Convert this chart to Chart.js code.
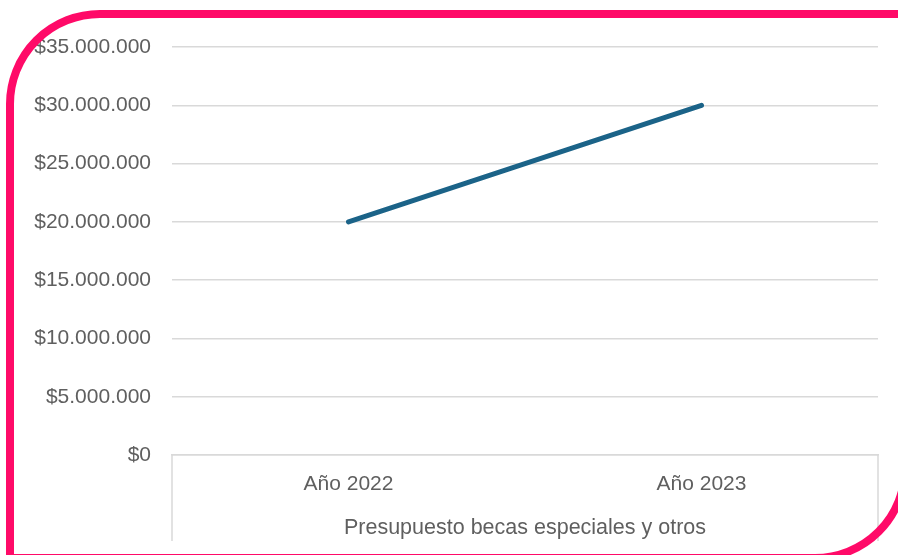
<!DOCTYPE html>
<html>
<head>
<meta charset="utf-8">
<script src="https://cdn.jsdelivr.net/npm/chart.js@4/dist/chart.umd.min.js"></script>
<style>
html,body{margin:0;padding:0;background:#fff;}
#wrap{width:898px;height:555px;position:relative;}
</style>
</head>
<body>
<div id="wrap"><canvas id="c" width="898" height="555"></canvas></div>
<script>
const categories = ["Año 2022", "Año 2023"];
const groupLabel = "Presupuesto becas especiales y otros";
const values = [20000000, 30000000];
const yMin = 0, yMax = 35000000, yStep = 5000000;

const FONT = "'Liberation Sans', Arial, sans-serif";
const TXT = "#5f5f5f";

function fmt(v){
  return "$" + String(Math.round(v)).replace(/\B(?=(\d{3})+(?!\d))/g, ".");
}

const framePlugin = {
  id: "frame",
  afterDraw(chart){
    const ctx = chart.ctx, a = chart.chartArea;
    ctx.save();
    // x-axis group box
    ctx.strokeStyle = "#d9d9d9";
    ctx.lineWidth = 1.5;
    ctx.beginPath();
    ctx.moveTo(a.left, a.bottom); ctx.lineTo(a.left, a.bottom + 86);
    ctx.moveTo(a.right, a.bottom); ctx.lineTo(a.right, a.bottom + 86);
    ctx.stroke();
    ctx.fillStyle = TXT;
    ctx.font = "21.5px " + FONT;
    ctx.textAlign = "center";
    ctx.textBaseline = "middle";
    ctx.fillText(groupLabel, (a.left + a.right) / 2, a.bottom + 73);
    // pink frame: rounded top-left and bottom-right, square elsewhere
    const x0 = 10, y0 = 14, x1 = 905, y1 = 558, r1 = 90, r2 = 90;
    ctx.strokeStyle = "#ff0a68";
    ctx.lineWidth = 8;
    ctx.beginPath();
    ctx.moveTo(x0 + r1, y0);
    ctx.lineTo(x1, y0);
    ctx.lineTo(x1, y1 - r2);
    ctx.arcTo(x1, y1, x1 - r2, y1, r2);
    ctx.lineTo(x0, y1);
    ctx.lineTo(x0, y0 + r1);
    ctx.arcTo(x0, y0, x0 + r1, y0, r1);
    ctx.closePath();
    ctx.stroke();
    ctx.restore();
  }
};

new Chart(document.getElementById("c"), {
  type: "line",
  data: {
    labels: categories,
    datasets: [{
      data: values,
      borderColor: "#1b6388",
      borderWidth: 5,
      borderCapStyle: "round",
      pointRadius: 0,
      tension: 0,
      fill: false
    }]
  },
  options: {
    responsive: false,
    animation: false,
    devicePixelRatio: 1,
    layout: { padding: { top: 47, right: 20, bottom: 0, left: 0 } },
    plugins: { legend: { display: false }, tooltip: { enabled: false } },
    scales: {
      x: {
        type: "category",
        offset: true,
        grid: { display: false, drawTicks: false },
        border: { display: true, color: "#d9d9d9", width: 1.5 },
        ticks: { color: TXT, font: { family: FONT, size: 21 }, padding: 17, maxRotation: 0 },
        afterFit(s){ s.height = 100; }
      },
      y: {
        min: yMin, max: yMax,
        grid: { color: "#d9d9d9", lineWidth: 1.5, drawTicks: false },
        border: { display: false },
        ticks: { stepSize: yStep, color: TXT, font: { family: FONT, size: 21 }, padding: 21, callback: v => fmt(v) },
        afterFit(s){ s.width = 172; }
      }
    }
  },
  plugins: [framePlugin]
});
</script>
</body>
</html>
